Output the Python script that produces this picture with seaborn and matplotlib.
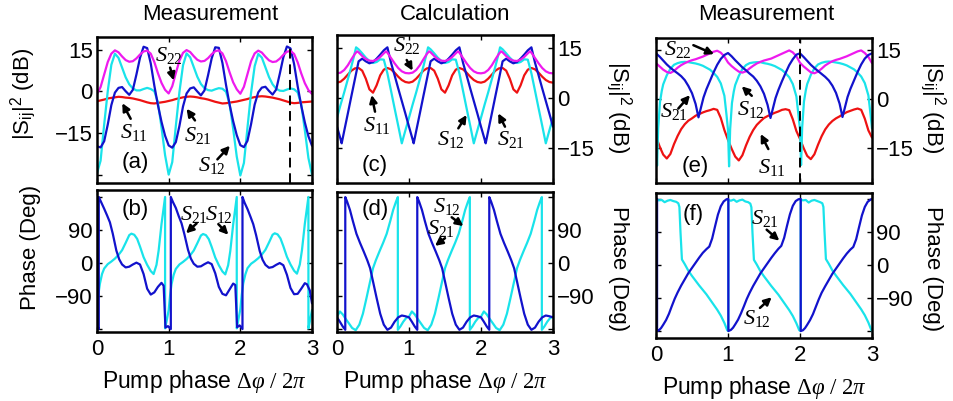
import matplotlib
matplotlib.use("Agg")
import matplotlib.pyplot as plt
import seaborn as sns

# ------------------------------------------------------------------ data
# common sampling grid of pump phase (units of 2*pi) for the smooth curves
phase_grid = [round(0.05 * i, 2) for i in range(61)]

# ---- (a) measurement, |S_ij|^2 in dB (sampled on phase_grid)
a_s22 = [-1.0, 1.5, 6.0, 10.5, 13.5, 14.7, 14.0, 12.5, 11.2, 10.6, 10.8, 11.8, 13.2, 14.3, 14.6, 13.5, 10.5, 6.5, 3.0, 0.5,
         -0.8, 1.8, 6.5, 11.0, 13.8, 14.8, 14.1, 12.6, 11.3, 10.7, 10.9, 11.9, 13.3, 14.4, 14.7, 13.6, 10.8, 6.8, 3.2, 0.7,
         -0.9, 1.6, 6.2, 10.8, 13.6, 14.6, 13.9, 12.4, 11.1, 10.5, 10.7, 11.7, 13.1, 14.2, 14.5, 13.4, 10.4, 6.4, 2.9, 0.4,
         -1.0]
a_s12 = [-29.5, -25.0, -12.0, 0.0, 9.5, 13.5, 12.0, 8.5, 5.0, 2.5, 1.0, 0.3, 0.3, 0.8, 1.2, 0.8, 0.0, -4.0, -13.0, -23.0,
         -30.0, -25.5, -12.5, -0.3, 9.3, 13.6, 12.2, 8.7, 5.2, 2.6, 1.1, 0.4, 0.2, 0.7, 1.1, 0.9, -0.2, -4.5, -13.5, -23.5,
         -30.3, -25.8, -13.0, -0.5, 9.0, 13.4, 12.1, 8.6, 5.1, 2.5, 0.9, 0.2, 0.1, 0.6, 1.0, 0.7, -0.4, -4.8, -14.0, -24.0,
         -30.0]
a_s21 = [-19.8, -20.2, -18.0, -12.0, -5.0, -0.5, 1.2, 1.5, 0.0, -1.3, 0.5, 6.0, 12.0, 16.0, 15.5, 10.0, 2.0, -5.0, -11.0, -16.0,
         -19.5, -20.3, -18.3, -12.5, -5.5, -0.8, 1.0, 1.4, -0.1, -1.5, 0.3, 5.8, 11.8, 15.8, 15.6, 10.2, 2.3, -4.8, -10.8, -15.8,
         -19.4, -20.1, -17.8, -11.8, -4.8, -0.4, 1.3, 1.6, 0.1, -1.2, 0.6, 6.2, 12.2, 16.1, 15.4, 9.8, 1.8, -5.2, -11.2, -16.2,
         -19.6]
a_s11 = [-3.6, -3.3, -3.0, -2.6, -2.4, -2.2, -2.0, -2.1, -2.3, -2.4, -2.6, -2.9, -3.2, -3.6, -4.0, -4.3, -4.4, -4.2, -4.0, -3.8,
         -3.5, -3.2, -2.8, -2.5, -2.2, -2.0, -1.9, -2.0, -2.2, -2.5, -2.7, -3.0, -3.4, -3.8, -4.1, -4.4, -4.3, -4.1, -3.9, -3.7,
         -3.4, -3.1, -2.8, -2.4, -2.1, -1.9, -1.8, -1.9, -2.1, -2.3, -2.6, -2.9, -3.3, -3.7, -4.1, -4.3, -4.2, -4.0, -3.9, -3.8,
         -3.7]
a_marker_phase = 2.69

# ---- (b) measurement, phase in degrees
b_s21_x = [0.00, 0.025, 0.025, 0.06, 0.10, 0.14, 0.18, 0.22, 0.27, 0.31, 0.35, 0.40, 0.45, 0.50, 0.55, 0.60, 0.65, 0.70, 0.75, 0.80, 0.85, 0.90, 0.93, 0.955, 0.99,
           1.03, 1.03, 1.06, 1.10, 1.14, 1.18, 1.22, 1.27, 1.31, 1.35, 1.40, 1.45, 1.50, 1.55, 1.60, 1.65, 1.70, 1.75, 1.80, 1.85, 1.90, 1.93, 1.955, 1.99,
           2.03, 2.03, 2.06, 2.10, 2.14, 2.18, 2.22, 2.27, 2.31, 2.35, 2.40, 2.45, 2.50, 2.55, 2.60, 2.65, 2.70, 2.75, 2.80, 2.85, 2.90, 2.93, 2.97, 3.00]
b_s21_y = [-172, -180, 180, 165, 148, 130, 111, 80, 34, 10, -4, -12, -10, -4, 1, -4, -30, -70, -86, -80, -65, -54, -62, -176, -172,
           -180, 180, 166, 150, 128, 108, 78, 36, 12, -2, -10, -9, -3, 2, -3, -28, -65, -84, -88, -72, -56, -60, -175, -170,
           -180, 180, 164, 147, 127, 106, 76, 33, 9, -5, -13, -11, -5, 0, -6, -32, -68, -85, -84, -70, -55, -58, -75, -110]
b_s12_x = [0.00, 0.02, 0.04, 0.07, 0.10, 0.15, 0.20, 0.25, 0.30, 0.35, 0.40, 0.45, 0.48, 0.52, 0.56, 0.60, 0.65, 0.70, 0.75, 0.79, 0.83, 0.86, 0.90, 0.95, 0.95, 0.975,
           1.00, 1.02, 1.04, 1.07, 1.10, 1.15, 1.20, 1.25, 1.30, 1.35, 1.40, 1.45, 1.48, 1.52, 1.56, 1.60, 1.65, 1.70, 1.75, 1.79, 1.83, 1.86, 1.90, 1.95, 1.95, 1.975,
           2.00, 2.02, 2.04, 2.07, 2.10, 2.15, 2.20, 2.25, 2.30, 2.35, 2.40, 2.45, 2.48, 2.52, 2.56, 2.60, 2.65, 2.70, 2.75, 2.79, 2.83, 2.86, 2.90, 2.95, 2.95, 2.975, 3.00]
b_s12_y = [-125, -85, -57, -30, -15, -3, 4, 12, 22, 35, 55, 76, 80, 77, 66, 45, 16, -5, -22, -30, -5, 34, 106, 180, -178, -155,
           -128, -88, -58, -32, -16, -4, 3, 11, 21, 34, 54, 75, 79, 76, 65, 44, 15, -6, -23, -31, -6, 33, 105, 180, -178, -152,
           -126, -86, -56, -31, -14, -2, 5, 13, 23, 36, 56, 77, 81, 78, 67, 46, 17, -4, -21, -29, -4, 35, 107, 180, -178, -154, -128]

# ---- (c) calculation, |S_ij|^2 in dB
c_s21_x = [0.00, 0.05, 0.065, 0.10, 0.15, 0.20, 0.25, 0.30, 0.35, 0.40, 0.45, 0.50, 0.55, 0.60, 0.65, 0.70, 0.75, 0.80, 0.85, 0.90, 0.95,
           1.00, 1.05, 1.065, 1.10, 1.15, 1.20, 1.25, 1.30, 1.35, 1.40, 1.45, 1.50, 1.55, 1.60, 1.65, 1.70, 1.75, 1.80, 1.85, 1.90, 1.95,
           2.00, 2.05, 2.065, 2.10, 2.15, 2.20, 2.25, 2.30, 2.35, 2.40, 2.45, 2.50, 2.55, 2.60, 2.65, 2.70, 2.75, 2.80, 2.85, 2.90, 2.95, 3.00]
c_s21_y = [-8.6, -12.4, -13.6, -9.9, -4.7, 0.6, 5.8, 11.0, 11.8, 11.0, 10.4, 10.8, 11.8, 13.0, 14.3, 15.2, 10.6, 6.8, 2.9, -0.9, -4.7,
           -8.6, -12.4, -13.6, -9.9, -4.7, 0.6, 5.8, 11.0, 11.8, 11.0, 10.4, 10.8, 11.8, 13.0, 14.3, 15.2, 10.6, 6.8, 2.9, -0.9, -4.7,
           -8.6, -12.4, -13.6, -9.9, -4.7, 0.6, 5.8, 11.0, 11.8, 11.0, 10.4, 10.8, 11.8, 13.0, 14.3, 15.2, 10.6, 6.8, 2.9, -0.9, -4.7, -8.6]
c_s12_x = [0.00, 0.05, 0.10, 0.15, 0.20, 0.25, 0.265, 0.30, 0.35, 0.40, 0.45, 0.50, 0.55, 0.60, 0.65, 0.70, 0.75, 0.80, 0.85, 0.90, 0.95,
           1.00, 1.05, 1.10, 1.15, 1.20, 1.25, 1.265, 1.30, 1.35, 1.40, 1.45, 1.50, 1.55, 1.60, 1.65, 1.70, 1.75, 1.80, 1.85, 1.90, 1.95,
           2.00, 2.05, 2.10, 2.15, 2.20, 2.25, 2.265, 2.30, 2.35, 2.40, 2.45, 2.50, 2.55, 2.60, 2.65, 2.70, 2.75, 2.80, 2.85, 2.90, 2.95, 3.00]
c_s12_y = [-5.9, -2.0, 1.7, 5.6, 9.5, 13.8, 15.2, 14.6, 13.4, 12.1, 11.1, 10.5, 10.8, 11.6, 11.5, 7.4, 2.2, -3.1, -8.3, -13.6, -9.7,
           -5.9, -2.0, 1.7, 5.6, 9.5, 13.8, 15.2, 14.6, 13.4, 12.1, 11.1, 10.5, 10.8, 11.6, 11.5, 7.4, 2.2, -3.1, -8.3, -13.6, -9.7,
           -5.9, -2.0, 1.7, 5.6, 9.5, 13.8, 15.2, 14.6, 13.4, 12.1, 11.1, 10.5, 10.8, 11.6, 11.5, 7.4, 2.2, -3.1, -8.3, -13.6, -9.7, -5.9]
c_s22_x = [0.00, 0.05, 0.10, 0.15, 0.20, 0.25, 0.28, 0.30, 0.35, 0.40, 0.45, 0.50, 0.55, 0.60, 0.65, 0.68, 0.70, 0.75, 0.80, 0.85, 0.90, 0.95,
           1.00, 1.05, 1.10, 1.15, 1.20, 1.25, 1.28, 1.30, 1.35, 1.40, 1.45, 1.50, 1.55, 1.60, 1.65, 1.68, 1.70, 1.75, 1.80, 1.85, 1.90, 1.95,
           2.00, 2.05, 2.10, 2.15, 2.20, 2.25, 2.28, 2.30, 2.35, 2.40, 2.45, 2.50, 2.55, 2.60, 2.65, 2.68, 2.70, 2.75, 2.80, 2.85, 2.90, 2.95, 3.00]
c_s22_y = [7.4, 7.6, 8.4, 9.8, 11.6, 13.3, 14.0, 13.7, 12.6, 11.7, 11.2, 11.1, 11.5, 12.3, 13.4, 14.0, 13.6, 12.0, 10.4, 9.0, 8.0, 7.5,
           7.4, 7.6, 8.4, 9.8, 11.6, 13.3, 14.0, 13.7, 12.6, 11.7, 11.2, 11.1, 11.5, 12.3, 13.4, 14.0, 13.6, 12.0, 10.4, 9.0, 8.0, 7.5,
           7.4, 7.6, 8.4, 9.8, 11.6, 13.3, 14.0, 13.7, 12.6, 11.7, 11.2, 11.1, 11.5, 12.3, 13.4, 14.0, 13.6, 12.0, 10.4, 9.0, 8.0, 7.5, 7.4]
c_s11 = [4.6, 4.9, 5.8, 7.0, 8.2, 8.9, 9.0, 8.2, 5.8, 2.6, 1.6, 3.8, 6.8, 8.5, 9.0, 8.6, 7.6, 6.4, 5.4, 4.8,
         4.6, 4.9, 5.8, 7.0, 8.2, 8.9, 9.0, 8.2, 5.8, 2.6, 1.6, 3.8, 6.8, 8.5, 9.0, 8.6, 7.6, 6.4, 5.4, 4.8,
         4.6, 4.9, 5.8, 7.0, 8.2, 8.9, 9.0, 8.2, 5.8, 2.6, 1.6, 3.8, 6.8, 8.5, 9.0, 8.6, 7.6, 6.4, 5.4, 4.8,
         4.6]

# ---- (d) calculation, phase in degrees
d_s21_x = [0.00, 0.04, 0.08, 0.115, 0.115, 0.14, 0.18, 0.22, 0.27, 0.32, 0.37, 0.42, 0.46, 0.50, 0.55, 0.60, 0.65, 0.70, 0.75, 0.80, 0.85, 0.90, 0.95,
           1.00, 1.04, 1.08, 1.115, 1.115, 1.14, 1.18, 1.22, 1.27, 1.32, 1.37, 1.42, 1.46, 1.50, 1.55, 1.60, 1.65, 1.70, 1.75, 1.80, 1.85, 1.90, 1.95,
           2.00, 2.04, 2.08, 2.115, 2.115, 2.14, 2.18, 2.22, 2.27, 2.32, 2.37, 2.42, 2.46, 2.50, 2.55, 2.60, 2.65, 2.70, 2.75, 2.80, 2.85, 2.90, 2.95, 3.00]
d_s21_y = [-148, -160, -173, -182, 180, 168, 145, 115, 80, 55, 32, 8, -14, -50, -95, -138, -168, -182, -176, -160, -148, -143, -145,
           -148, -160, -173, -182, 180, 168, 145, 115, 80, 55, 32, 8, -14, -50, -95, -138, -168, -182, -176, -160, -148, -143, -145,
           -148, -160, -173, -182, 180, 168, 145, 115, 80, 55, 32, 8, -14, -50, -95, -138, -168, -182, -176, -160, -148, -143, -145, -148]
d_s12_x = [0.00, 0.04, 0.08, 0.12, 0.16, 0.21, 0.26, 0.31, 0.36, 0.41, 0.46, 0.50, 0.54, 0.59, 0.64, 0.69, 0.74, 0.78, 0.82, 0.845, 0.845, 0.88, 0.92, 0.96,
           1.00, 1.04, 1.08, 1.12, 1.16, 1.21, 1.26, 1.31, 1.36, 1.41, 1.46, 1.50, 1.54, 1.59, 1.64, 1.69, 1.74, 1.78, 1.82, 1.845, 1.845, 1.88, 1.92, 1.96,
           2.00, 2.04, 2.08, 2.12, 2.16, 2.21, 2.26, 2.31, 2.36, 2.41, 2.46, 2.50, 2.54, 2.59, 2.64, 2.69, 2.74, 2.78, 2.82, 2.845, 2.845, 2.88, 2.92, 2.96, 3.00]
d_s12_y = [-146, -132, -140, -152, -163, -177, -183, -168, -138, -95, -50, -14, 8, 32, 55, 80, 115, 145, 168, 180, -182, -173, -160, -150,
           -146, -132, -140, -152, -163, -177, -183, -168, -138, -95, -50, -14, 8, 32, 55, 80, 115, 145, 168, 180, -182, -173, -160, -150,
           -146, -132, -140, -152, -163, -177, -183, -168, -138, -95, -50, -14, 8, 32, 55, 80, 115, 145, 168, 180, -182, -173, -160, -150, -146]

# ---- (e) measurement, |S_ij|^2 in dB
e_s22 = [11.0, 10.0, 9.0, 8.3, 8.0, 8.6, 9.6, 10.4, 11.0, 11.5, 11.9, 12.2, 12.6, 13.0, 13.5, 14.0, 14.5, 14.8, 14.2, 13.0,
         11.2, 10.1, 9.2, 8.4, 8.1, 8.5, 9.4, 10.2, 10.9, 11.4, 11.8, 12.1, 12.4, 12.9, 13.4, 13.9, 14.4, 14.9, 14.3, 13.1,
         11.1, 10.0, 9.1, 8.2, 7.9, 8.4, 9.3, 10.3, 11.0, 11.6, 12.0, 12.3, 12.7, 13.1, 13.6, 14.1, 14.6, 14.9, 14.1, 12.9,
         11.0]
e_s11 = [-11.5, -14.5, -17.0, -18.2, -16.8, -13.8, -11.3, -9.2, -7.7, -6.6, -5.9, -5.1, -4.6, -4.1, -3.7, -3.4, -3.0, -3.3, -5.8, -9.5,
         -12.5, -15.2, -17.6, -18.8, -17.2, -14.2, -11.6, -9.5, -7.9, -6.8, -5.8, -5.2, -4.7, -4.2, -3.8, -3.3, -3.1, -3.4, -6.2, -9.8,
         -12.2, -15.0, -17.4, -18.4, -16.9, -14.0, -11.4, -9.3, -7.8, -6.7, -5.9, -5.3, -4.6, -4.0, -3.6, -3.2, -2.9, -3.3, -6.0, -9.6,
         -11.8]
e_s21_x = [0.00, 0.05, 0.10, 0.15, 0.20, 0.25, 0.30, 0.35, 0.40, 0.45, 0.50, 0.55, 0.59, 0.62, 0.66, 0.70, 0.75, 0.80, 0.85, 0.90, 0.95,
           1.00, 1.05, 1.10, 1.15, 1.20, 1.25, 1.30, 1.35, 1.40, 1.45, 1.50, 1.55, 1.59, 1.62, 1.66, 1.70, 1.75, 1.80, 1.85, 1.90, 1.95,
           2.00, 2.05, 2.10, 2.15, 2.20, 2.25, 2.30, 2.35, 2.40, 2.45, 2.50, 2.55, 2.59, 2.62, 2.66, 2.70, 2.75, 2.80, 2.85, 2.90, 2.95, 3.00]
e_s21_y = [14.0, 13.0, 11.8, 10.6, 9.6, 8.7, 7.9, 7.0, 5.8, 4.0, 1.8, -1.5, -5.6, -3.0, 0.5, 3.0, 5.6, 8.2, 10.5, 12.3, 13.5,
           14.1, 13.1, 11.9, 10.8, 9.7, 8.8, 7.8, 6.9, 5.6, 3.9, 1.6, -1.8, -5.8, -3.2, 0.3, 2.8, 5.5, 8.0, 10.4, 12.2, 13.6,
           14.0, 12.9, 11.7, 10.5, 9.5, 8.6, 7.7, 6.8, 5.7, 4.1, 1.9, -1.4, -5.5, -2.9, 0.6, 3.1, 5.7, 8.3, 10.6, 12.4, 13.5, 14.0]
e_s12_x = [0.00, 0.015, 0.03, 0.055, 0.08, 0.10, 0.15, 0.20, 0.25, 0.30, 0.35, 0.40, 0.45, 0.50, 0.55, 0.60, 0.65, 0.70, 0.75, 0.80, 0.85, 0.90, 0.95, 0.98,
           1.00, 1.015, 1.03, 1.055, 1.08, 1.10, 1.15, 1.20, 1.25, 1.30, 1.35, 1.40, 1.45, 1.50, 1.55, 1.60, 1.65, 1.70, 1.75, 1.80, 1.85, 1.90, 1.95, 1.98,
           2.00, 2.015, 2.03, 2.055, 2.08, 2.10, 2.15, 2.20, 2.25, 2.30, 2.35, 2.40, 2.45, 2.50, 2.55, 2.60, 2.65, 2.70, 2.75, 2.80, 2.85, 2.90, 2.95, 2.98, 3.00]
e_s12_y = [-9.0, -20.4, -9.0, -1.0, 2.5, 4.5, 7.3, 9.3, 10.5, 11.0, 11.3, 11.4, 11.3, 11.1, 10.9, 10.6, 10.2, 9.6, 9.0, 8.0, 6.8, 4.8, 1.0, -5.0,
           -9.5, -20.6, -9.2, -1.2, 2.3, 4.3, 7.1, 9.2, 10.4, 11.0, 11.2, 11.3, 11.3, 11.0, 10.8, 10.5, 10.1, 9.5, 8.9, 7.9, 6.7, 4.6, 0.8, -5.2,
           -9.3, -20.2, -8.8, -0.8, 2.6, 4.6, 7.4, 9.4, 10.6, 11.1, 11.4, 11.5, 11.4, 11.2, 11.0, 10.7, 10.3, 9.7, 9.1, 8.1, 6.9, 4.9, 1.1, -4.8, -9.0]
e_marker_phase = 2.0

# ---- (f) measurement, phase in degrees
f_s21_x = [0.00, 0.015, 0.015, 0.04, 0.07, 0.10, 0.14, 0.18, 0.22, 0.26, 0.30, 0.35, 0.40, 0.45, 0.50, 0.55, 0.60, 0.65, 0.70, 0.74, 0.78, 0.82, 0.86, 0.90, 0.94, 0.98,
           1.005, 1.005, 1.04, 1.07, 1.10, 1.14, 1.18, 1.22, 1.26, 1.30, 1.35, 1.40, 1.45, 1.50, 1.55, 1.60, 1.65, 1.70, 1.74, 1.78, 1.82, 1.86, 1.90, 1.94, 1.98,
           2.01, 2.01, 2.04, 2.07, 2.10, 2.14, 2.18, 2.22, 2.26, 2.30, 2.35, 2.40, 2.45, 2.50, 2.55, 2.60, 2.65, 2.70, 2.74, 2.78, 2.82, 2.86, 2.90, 2.94, 2.98, 3.00]
f_s21_y = [178, 180, -180, -178, -172, -163, -150, -133, -112, -92, -75, -56, -39, -22, -8, 6, 20, 33, 43, 50, 72, 105, 137, 160, 173, 179,
           180, -180, -177, -171, -162, -149, -132, -113, -93, -76, -57, -40, -23, -9, 5, 19, 32, 44, 52, 74, 107, 138, 161, 174, 179,
           180, -180, -178, -172, -163, -150, -134, -114, -94, -76, -58, -41, -24, -10, 4, 18, 31, 42, 49, 70, 103, 135, 158, 172, 178, 180]
f_s12_x = [0.00, 0.01, 0.01, 0.04, 0.08, 0.12, 0.16, 0.20, 0.24, 0.28, 0.31, 0.325, 0.34, 0.36, 0.40, 0.45, 0.50, 0.55, 0.60, 0.65, 0.70, 0.75, 0.80, 0.85, 0.90, 0.95, 0.99,
           1.005, 1.005, 1.04, 1.08, 1.12, 1.16, 1.20, 1.24, 1.28, 1.31, 1.325, 1.34, 1.36, 1.40, 1.45, 1.50, 1.55, 1.60, 1.65, 1.70, 1.75, 1.80, 1.85, 1.90, 1.95, 1.99,
           2.01, 2.01, 2.04, 2.08, 2.12, 2.16, 2.20, 2.24, 2.28, 2.31, 2.325, 2.34, 2.36, 2.40, 2.45, 2.50, 2.55, 2.60, 2.65, 2.70, 2.75, 2.80, 2.85, 2.90, 2.95, 2.99, 3.00]
f_s12_y = [-179, -180, 178, 176, 177, 171, 175, 177, 174, 172, 168, 158, 90, 15, 2, -16, -30, -43, -56, -68, -80, -94, -108, -122, -138, -158, -178,
           -180, 177, 175, 178, 172, 176, 178, 173, 171, 167, 157, 88, 14, 1, -17, -31, -44, -57, -69, -81, -95, -109, -123, -139, -159, -178,
           -180, 178, 176, 177, 170, 175, 177, 174, 171, 168, 158, 92, 16, 3, -15, -29, -42, -55, -67, -79, -93, -107, -121, -137, -157, -177, -180]

# ---- axes texts
x_ticks = [0, 1, 2, 3]
x_tick_labels = ["0", "1", "2", "3"]
db_ticks_a = [-30, -15, 0, 15]
db_labels_a = ["", "\u221215", "0", "15"]
db_ticks = [-15, 0, 15]
db_labels = ["\u221215", "0", "15"]
ph_ticks = [-180, -90, 0, 90, 180]
ph_labels = ["", "\u221290", "0", "90", ""]
titles = ["Measurement", "Calculation", "Measurement"]
xlabel_text = r"Pump phase $\Delta\varphi\ /\ 2\pi$"
ylabel_db = r"|S$_{\mathsf{ij}}$|$^{\mathsf{2}}$ (dB)"
ylabel_ph = "Phase (Deg)"

# ------------------------------------------------------------------ style
sns.set_style("white")
plt.rcParams.update({
    "font.family": ["Liberation Sans", "DejaVu Sans"],
    "mathtext.fontset": "custom",
    "mathtext.rm": "Liberation Serif",
    "mathtext.it": "Liberation Serif:italic",
    "mathtext.bf": "Liberation Serif:bold",
    "mathtext.sf": "Liberation Sans",
    "axes.unicode_minus": True,
    "text.color": "black",
    "axes.labelcolor": "black",
    "xtick.color": "black",
    "ytick.color": "black",
    "axes.edgecolor": "black",
})

CYAN = "#19e3ea"
BLUE = "#1212cc"
RED = "#ee1212"
MAGENTA = "#ee1aee"
LW = 1.6
FS = 16

fig = plt.figure(figsize=(9.54, 4.01), dpi=100)
W, H = 954.0, 401.0


def rect(x0, y0, x1, y1):
    return [x0 / W, 1 - y1 / H, (x1 - x0) / W, (y1 - y0) / H]


ax_a = fig.add_axes(rect(97, 37, 312, 183))
ax_b = fig.add_axes(rect(97, 190, 312, 332))
ax_c = fig.add_axes(rect(337, 35, 553, 183))
ax_d = fig.add_axes(rect(337, 192, 553, 332))
ax_e = fig.add_axes(rect(656, 38, 872, 183))
ax_f = fig.add_axes(rect(656, 193, 872, 338))


def curve(ax, x, y, color):
    sns.lineplot(x=x, y=y, ax=ax, color=color, lw=LW, estimator=None,
                 sort=False, legend=False)


def frame(ax, ylim, yt, ytl, side, bottom):
    ax.set_xlim(0, 3)
    ax.set_ylim(*ylim)
    ax.set_xticks(x_ticks)
    ax.set_xticklabels(x_tick_labels)
    ax.set_yticks(yt)
    ax.set_yticklabels(ytl)
    ax.tick_params(axis="both", direction="in", length=3.5, width=1.0,
                   top=True, bottom=True, left=True, right=True,
                   labelsize=FS, colors="black")
    ax.tick_params(axis="y", labelleft=(side == "left"),
                   labelright=(side == "right"), pad=3)
    ax.tick_params(axis="x", labelbottom=bottom, pad=5)
    for s in ax.spines.values():
        s.set_visible(True)
        s.set_linewidth(1.8)
        s.set_color("black")
    ax.set_ylabel("")
    if bottom:
        ax.set_xlabel(xlabel_text, fontsize=16.5, labelpad=6)
    else:
        ax.set_xlabel("")


def tag(ax, text, txy, tail, tip):
    ax.text(txy[0], txy[1], text, ha="center", va="center", fontsize=FS)
    ax.annotate("", xy=tip, xytext=tail,
                arrowprops=dict(arrowstyle="-|>", color="black", lw=1.8,
                                mutation_scale=11, shrinkA=0, shrinkB=0))


# (a)
curve(ax_a, phase_grid, a_s11, RED)
curve(ax_a, phase_grid, a_s12, CYAN)
curve(ax_a, phase_grid, a_s21, BLUE)
curve(ax_a, phase_grid, a_s22, MAGENTA)
ax_a.axvline(a_marker_phase, color="black", lw=1.4, ls=(0, (5, 3)))
frame(ax_a, (-33, 19.5), db_ticks_a, db_labels_a, "left", False)
ax_a.text(0.53, -25.6, "(a)", ha="center", va="center", fontsize=FS)
tag(ax_a, r"$S_{22}$", (1.0, 13.0), (1.02, 8.5), (1.07, 3.9))
tag(ax_a, r"$S_{11}$", (0.51, -14.8), (0.47, -9.9), (0.353, -4.3))
tag(ax_a, r"$S_{21}$", (1.41, -16.0), (1.367, -10.5), (1.25, -6.3))
tag(ax_a, r"$S_{12}$", (1.6, -26.8), (1.68, -24.5), (1.855, -19.6))

# (b)
curve(ax_b, b_s12_x, b_s12_y, CYAN)
curve(ax_b, b_s21_x, b_s21_y, BLUE)
frame(ax_b, (-188, 199), ph_ticks, ph_labels, "left", True)
ax_b.text(0.53, 147, "(b)", ha="center", va="center", fontsize=FS)
tag(ax_b, r"$S_{21}$", (1.353, 132), (1.39, 108), (1.242, 81))
tag(ax_b, r"$S_{12}$", (1.707, 132), (1.693, 106), (1.833, 77))

# (c)
curve(ax_c, phase_grid, c_s11, RED)
curve(ax_c, c_s12_x, c_s12_y, CYAN)
curve(ax_c, c_s21_x, c_s21_y, BLUE)
curve(ax_c, c_s22_x, c_s22_y, MAGENTA)
frame(ax_c, (-25.5, 18.9), db_ticks, db_labels, "right", False)
ax_c.text(0.53, -20.1, "(c)", ha="center", va="center", fontsize=FS)
tag(ax_c, r"$S_{22}$", (0.977, 15.7), (0.968, 11.4), (1.05, 8.2))
tag(ax_c, r"$S_{11}$", (0.551, -8.1), (0.528, -4.1), (0.481, 0.9))
tag(ax_c, r"$S_{12}$", (1.579, -12.6), (1.685, -9.1), (1.80, -5.1))
tag(ax_c, r"$S_{21}$", (2.412, -12.6), (2.333, -8.6), (2.24, -4.6))

# (d)
curve(ax_d, d_s12_x, d_s12_y, CYAN)
curve(ax_d, d_s21_x, d_s21_y, BLUE)
frame(ax_d, (-188, 194), ph_ticks, ph_labels, "right", True)
ax_d.text(0.53, 146, "(d)", ha="center", va="center", fontsize=FS)
tag(ax_d, r"$S_{12}$", (1.532, 155), (1.593, 125), (1.755, 101))
tag(ax_d, r"$S_{21}$", (1.44, 95), (1.5, 68), (1.361, 47))

# (e)
curve(ax_e, phase_grid, e_s11, RED)
curve(ax_e, e_s12_x, e_s12_y, CYAN)
curve(ax_e, phase_grid, e_s22, MAGENTA)
curve(ax_e, e_s21_x, e_s21_y, BLUE)
ax_e.axvline(e_marker_phase, color="black", lw=1.4, ls=(0, (5, 3)))
frame(ax_e, (-25.7, 18.7), db_ticks, db_labels, "right", False)
ax_e.text(0.54, -20.6, "(e)", ha="center", va="center", fontsize=FS)
tag(ax_e, r"$S_{22}$", (0.31, 15.1), (0.519, 16.5), (0.806, 13.75))
tag(ax_e, r"$S_{21}$", (0.255, -3.9), (0.31, -2.9), (0.472, 1.2))
tag(ax_e, r"$S_{12}$", (1.315, -3.1), (1.33, 1.0), (1.19, 3.9))
tag(ax_e, r"$S_{11}$", (1.616, -20.9), (1.56, -15.3), (1.454, -10.7))

# (f)
curve(ax_f, f_s12_x, f_s12_y, CYAN)
curve(ax_f, f_s21_x, f_s21_y, BLUE)
frame(ax_f, (-199, 196), ph_ticks, ph_labels, "right", True)
ax_f.text(0.518, 138, "(f)", ha="center", va="center", fontsize=FS)
tag(ax_f, r"$S_{21}$", (1.514, 127), (1.537, 96), (1.713, 66))
tag(ax_f, r"$S_{12}$", (1.407, -146), (1.444, -117), (1.606, -88))

# titles and side labels
fig.text(210 / W, 1 - 15 / H, titles[0], ha="center", va="center", fontsize=16)
fig.text(455 / W, 1 - 15 / H, titles[1], ha="center", va="center", fontsize=16)
fig.text(766 / W, 1 - 15 / H, titles[2], ha="center", va="center", fontsize=16)

fig.text(23 / W, 1 - 94 / H, ylabel_db, rotation=90, ha="center", va="center", fontsize=16)
fig.text(31 / W, 1 - 247 / H, ylabel_ph, rotation=90, ha="center", va="center", fontsize=16)
fig.text(619 / W, 1 - 107 / H, ylabel_db, rotation=270, ha="center", va="center", fontsize=16)
fig.text(619 / W, 1 - 269 / H, ylabel_ph, rotation=270, ha="center", va="center", fontsize=16)
fig.text(933 / W, 1 - 107 / H, ylabel_db, rotation=270, ha="center", va="center", fontsize=16)
fig.text(933 / W, 1 - 269 / H, ylabel_ph, rotation=270, ha="center", va="center", fontsize=16)

fig.savefig("out.png", dpi=100)
